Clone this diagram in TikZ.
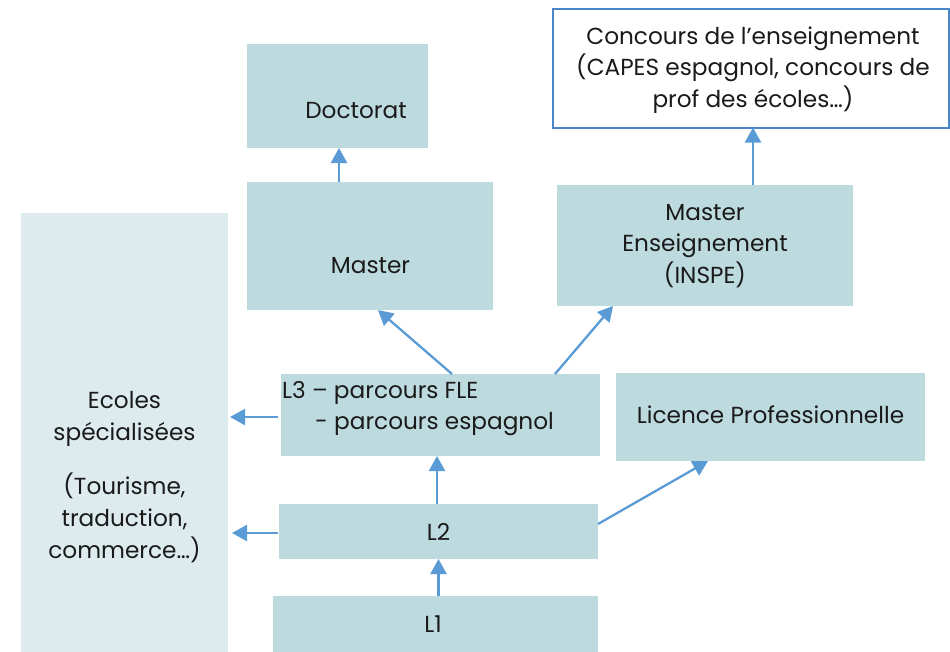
\documentclass[tikz,border=0pt]{standalone}
\usepackage{fontspec}
\setmainfont{Poppins}
\usetikzlibrary{arrows.meta}
\definecolor{boxfill}{HTML}{BDDBDF}
\definecolor{ecfill}{HTML}{DDEBEE}
\definecolor{arr}{HTML}{5B9BD5}
\definecolor{cborder}{HTML}{4A86C8}
\definecolor{ink}{HTML}{1A1A1A}
\begin{document}
\begin{tikzpicture}[x=1pt,y=-1pt,
  box/.style={fill=boxfill, draw=none, inner sep=0pt, outer sep=0pt},
  txt/.style={font=\fontsize{23.2}{31.8}\selectfont, align=center, text=ink, inner sep=0pt},
  arrow/.style={draw=arr, line width=2.3pt, -{Triangle[length=15pt,width=16pt]}}]
\useasboundingbox (0,0) rectangle (950,651);
% boxes
\node[box, fill=ecfill, minimum width=207pt, minimum height=442pt] (ec) at (124.5,434) {};
\node[box, minimum width=181pt, minimum height=104pt] (doc) at (337.5,96) {};
\node[box, minimum width=246pt, minimum height=128pt] (mas) at (370,246) {};
\node[box, minimum width=296pt, minimum height=121pt] (mens) at (705,245.5) {};
\node[box, fill=white, draw=cborder, line width=2pt, minimum width=396pt, minimum height=119pt] (conc) at (750.5,68) {};
\node[box, minimum width=319pt, minimum height=82pt] (l3) at (440.5,415) {};
\node[box, minimum width=309pt, minimum height=88pt] (lp) at (770.5,417) {};
\node[box, minimum width=319pt, minimum height=55pt] (l2) at (438.5,531.5) {};
\node[box, minimum width=325pt, minimum height=60pt] (l1) at (435.5,626) {};
% texts
\node[txt, anchor=base] (doct) at (356,118) {Doctorat};
\node[txt, anchor=base] (mast) at (370.5,273) {Master};
\node[txt] (menst) at (705,246) {Master\\Enseignement\\(INSPE)};
\node[txt] (conct) at (753,70) {Concours de l’enseignement\\(CAPES espagnol, concours de\\prof des écoles…)};
\node[txt, anchor=base west] (l3a) at (282,398) {L3 – parcours FLE};
\node[txt, anchor=base west] (l3b) at (315,429) {- parcours espagnol};
\node[txt, anchor=base] (lpt) at (770.5,423) {Licence Professionnelle};
\node[txt, anchor=base] (l2t) at (438.5,540) {L2};
\node[txt, anchor=base] (l1t) at (433,632) {L1};
\node[txt] (ect) at (124.5,477) {Ecoles\\spécialisées\\[22pt](Tourisme,\\traduction,\\commerce…)};
% arrows
\draw[arrow] ([xshift=-31pt]mas.north) -- ([xshift=1.5pt]doc.south);
\draw[arrow] ([xshift=48pt]mens.north) -- ([xshift=2.5pt]conc.south);
\draw[arrow] ([xshift=11.5pt]l3.north) -- ([xshift=8pt]mas.south);
\draw[arrow] ([xshift=114.5pt]l3.north) -- ([xshift=-92pt]mens.south);
\draw[arrow, shorten <=3pt, shorten >=2pt] ([yshift=-2pt]l3.west) -- ([yshift=-2pt]l3.west -| ec.east);
\draw[arrow, shorten <=1pt, shorten >=4pt] ([yshift=-1.5pt]l2.west) -- ([yshift=-1.5pt]l2.west -| ec.east);
\draw[arrow] ([xshift=-1.5pt]l2.north) -- ([xshift=-1.5pt]l2.north |- l3.south);
\draw[arrow] (l1.north -| l2.south) -- (l2.south);
\draw[arrow] ([yshift=7.5pt]l2.east) -- ([xshift=-62.5pt]lp.south);
\end{tikzpicture}
\end{document}
